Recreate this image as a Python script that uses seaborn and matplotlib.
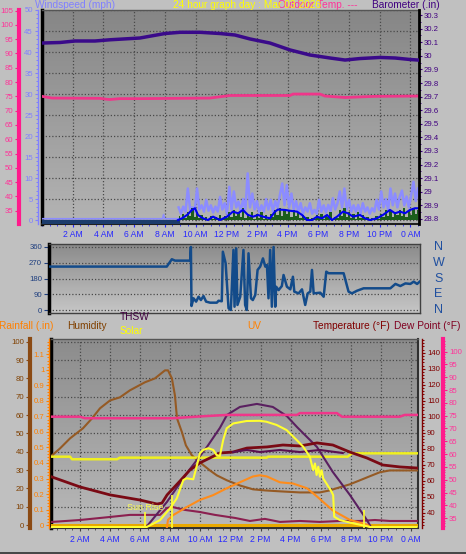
import numpy as np
import matplotlib
matplotlib.use("Agg")
import matplotlib.pyplot as plt
import seaborn as sns
from matplotlib.ticker import MultipleLocator, FuncFormatter
from matplotlib.colors import LinearSegmentedColormap
from matplotlib.lines import Line2D

plt.rcParams['font.family'] = ['Liberation Sans', 'DejaVu Sans']

# ---------------- data (hours since midnight) ----------------
tick_hours = [2, 4, 6, 8, 10, 12, 14, 16, 18, 20, 22, 24]
time_labels = ["2 AM", "4 AM", "6 AM", "8 AM", "10 AM", "12 PM", "2 PM", "4 PM",
               "6 PM", "8 PM", "10 PM", "0 AM"]

# top panel
baro_t = [0, 1.17, 2.15, 3.45, 4.43, 6.38, 8.01, 8.99, 10.29, 11.6, 12.57, 13.55, 14.85,
          16.16, 17.46, 18.76, 19.74, 20.72, 22.02, 23.0, 23.97, 24.5]
baro_v = [30.094, 30.098, 30.109, 30.109, 30.118, 30.131, 30.164, 30.173, 30.173, 30.164,
          30.153, 30.124, 30.094, 30.043, 30.006, 29.984, 29.969, 29.980, 29.988, 29.984,
          29.973, 29.969]
out_t = [0, 0.65, 3.78, 4.2, 4.43, 5.08, 6.38, 10.94, 12.25, 16.16, 16.35, 18.1, 18.44,
         19.74, 21.7, 24.5]
out_v = [75.0, 74.4, 74.3, 74.0, 73.9, 74.2, 74.2, 74.4, 75.3, 75.3, 75.8, 75.8, 75.1,
         74.6, 75.0, 75.1]
gust0_t = [0, 7.85, 7.92, 8.0, 8.86]
gust0_v = [0.3, 0.3, 1.3, 0.3, 0.3]
gust_start, gust_step = 8.9, 0.15
gust_v = [3.0, 1.5, 3.2, 2.0, 7.5, 2.5, 3.0, 2.0, 7.5, 2.5,
          3.5, 2.0, 4.8, 2.2, 3.5, 1.8, 3.2, 2.0, 5.5, 2.5,
          4.0, 1.5, 7.9, 2.5, 6.8, 3.0, 4.4, 2.0, 5.0, 2.5,
          11.1, 3.0, 6.3, 2.5, 4.5, 1.8, 3.5, 2.0, 5.0, 2.5,
          4.8, 2.0, 4.5, 3.0, 6.0, 8.7, 3.5, 8.3, 3.0, 6.3,
          2.5, 4.5, 2.0, 4.0, 1.5, 3.0, 2.0, 4.0, 1.5, 2.4,
          1.5, 4.8, 2.0, 3.5, 1.8, 3.6, 2.0, 5.2, 2.5, 4.0,
          6.8, 3.0, 7.5, 2.5, 4.8, 2.0, 3.5, 2.0, 3.6, 1.5,
          4.0, 2.0, 3.0, 1.5, 2.8, 2.0, 4.8, 2.5, 6.8, 3.0,
          5.0, 2.5, 7.5, 3.5, 6.3, 3.0, 5.5, 7.0, 3.5, 5.6,
          3.0, 6.0, 9.1, 4.5, 7.5]
ws_v = [1.0, 0.3, 1.5, 0.5, 2.0, 1.0, 2.8, 0.8, 2.0, 0.5,
        1.2, 0.3, 0.8, 0.2, 1.0, 0.3, 0.8, 0.5, 1.2, 0.3,
        1.0, 0.5, 1.8, 0.8, 2.5, 1.0, 2.0, 0.8, 2.8, 0.5,
        1.5, 0.8, 2.0, 0.3, 1.5, 0.5, 1.8, 0.3, 1.2, 0.2,
        1.5, 0.8, 2.5, 1.2, 2.8, 1.0, 2.5, 1.5, 2.2, 0.8,
        2.5, 1.0, 2.0, 0.5, 1.2, 0.2, 0.8, 0.2, 0.5, 0.3,
        1.2, 0.5, 1.5, 0.3, 1.2, 0.8, 2.0, 0.3, 0.8, 0.5,
        2.5, 1.0, 2.8, 0.8, 2.0, 0.5, 1.5, 0.3, 1.8, 0.5,
        1.2, 0.2, 0.8, 0.3, 0.5, 0.2, 1.0, 0.3, 1.5, 0.8,
        2.5, 1.0, 2.2, 0.8, 2.0, 1.2, 2.5, 1.0, 2.8, 0.8,
        2.5, 1.2, 2.8, 1.5, 2.5]
calm_t = [0, 8.86]
calm_v = [-0.4, -0.4]
avg_t = [8.86, 9.12, 9.45, 9.77, 9.97, 10.16, 10.49, 10.81, 11.14, 11.6, 12.05, 12.44, 12.77,
         13.09, 13.42, 13.75, 14.07, 14.4, 14.85, 15.18, 15.37, 15.83, 16.16, 16.61, 16.94,
         17.26, 17.59, 17.92, 18.24, 18.57, 18.89, 19.22, 19.61, 19.93, 20.26, 20.72, 21.04,
         21.37, 21.82, 22.21, 22.67, 23.0, 23.32, 23.65, 23.97, 24.3, 24.5]
avg_v = [0.0, 0.4, 1.2, 2.4, 2.8, 1.2, 0.4, 0.0, 0.8, 0.0, 0.8, 2.0, 1.6,
         2.4, 1.2, 0.8, 1.2, 0.8, 0.4, 2.0, 2.5, 2.4, 2.2, 2.0, 1.2,
         0.0, 0.0, 0.8, 0.4, 1.2, 0.0, 0.8, 2.0, 1.6, 0.8, 1.2, 0.4,
         0.0, 0.4, 1.2, 2.4, 1.6, 2.0, 1.6, 2.4, 2.8, 2.8]

# middle panel: wind direction (degrees)
wd_t = [0.52, 8.12, 8.45, 8.66, 9.64, 9.69, 9.73, 9.86, 10.03, 10.19,
        10.34, 10.51, 10.68, 10.94, 11.38, 11.49, 11.7, 11.77, 11.95, 12.14,
        12.29, 12.46, 12.53, 12.64, 12.72, 12.9, 13.11, 13.22, 13.33, 13.44,
        13.6, 13.72, 13.88, 14.03, 14.2, 14.38, 14.53, 14.64, 14.74, 14.85,
        14.96, 15.07, 15.18, 15.24, 15.4, 15.61, 15.72, 15.94, 16.16, 16.33,
        16.42, 16.7, 16.92, 17.13, 17.29, 17.46, 17.57, 17.68, 18.11, 18.33,
        18.5, 18.65, 19.63, 19.95, 20.17, 20.5, 20.93, 22.67, 23.0, 23.32,
        23.65, 23.97, 24.19, 24.41, 24.58]
wd_v = [248, 248, 290, 282, 282, 360, 23, 67, 48, 76,
        57, 80, 48, 42, 42, 53, 50, 333, 267, 10,
        0, 343, 19, 352, 29, 76, 343, 29, 0, 324,
        67, 57, 86, 229, 248, 295, 248, 257, 67, 343,
        19, 360, 19, 133, 114, 137, 200, 133, 118, 190,
        105, 95, 118, 29, 95, 105, 229, 95, 99, 76,
        219, 210, 210, 105, 95, 110, 124, 124, 149, 137,
        152, 149, 162, 149, 162]
wd_ticks = [0, 90, 180, 270, 360]
compass = ["N", "E", "S", "W", "N"]

# bottom panel
hum_t = [0.14, 0.67, 1.34, 2.2, 2.8, 3.33, 4.0, 4.66, 5.32, 6.32, 6.98, 7.65, 7.85, 8.11,
         8.31, 8.45, 8.78, 9.04, 9.44, 9.97, 10.64, 11.1, 11.77, 12.63, 13.5, 14.3, 15.29,
         16.62, 17.94, 18.6, 19.27, 19.93, 20.6, 21.26, 21.93, 22.59, 24.45]
hum_v = [38.0, 41.8, 47.3, 52.8, 58.2, 63.7, 68.0, 69.7, 73.5, 77.9, 80.0, 84.4, 84.4, 80.0,
         70.8, 58.2, 50.6, 43.5, 38.0, 34.2, 29.8, 27.1, 24.4, 21.6, 19.5, 18.9, 18.4,
         17.8, 17.8, 18.9, 20.6, 22.2, 24.4, 26.6, 28.8, 29.8, 29.8]
pinkb_t = [0.14, 2.0, 2.33, 8.18, 9.97, 11.77, 16.42, 16.62, 19.08, 19.41, 23.26, 23.59, 24.45]
pinkb_v = [74.6, 74.6, 74.0, 74.0, 74.7, 75.3, 75.3, 76.0, 76.0, 74.6, 74.6, 75.3, 75.3]
flat_t = [0.14, 1.34, 1.47, 4.46, 4.66, 14.42, 14.5, 19.8, 20.07, 24.45]
flat_v = [75.0, 75.0, 73.4, 73.4, 74.4, 74.4, 75.0, 75.0, 77.1, 77.1]
temp_t = [0.14, 2.0, 4.0, 5.99, 7.12, 7.45, 7.79, 8.65, 9.31, 9.97, 10.64, 11.3, 12.17, 13.1,
          14.43, 15.49, 16.62, 17.75, 18.81, 19.94, 21.07, 22.13, 23.26, 24.45]
temp_v = [62.3, 56.1, 51.1, 47.9, 45.4, 46.0, 51.1, 59.8, 66.7, 71.1, 74.2, 77.3, 77.9, 80.4,
          81.1, 82.3, 81.7, 83.6, 82.3, 77.9, 74.2, 69.8, 68.6, 67.9]
feels_t = [12.17, 13.1, 13.96, 15.29, 16.62, 17.94, 19.47]
feels_v = [77.9, 79.2, 77.9, 79.2, 77.9, 79.2, 77.3]
dew_t = [0.14, 2.0, 4.0, 5.32, 7.32, 7.78, 8.11, 8.98, 9.97, 10.97, 12.3, 13.3, 14.29, 15.29,
         16.62, 17.94, 19.27, 20.6, 21.6, 22.59, 24.45]
dew_v = [34.2, 35.4, 37.3, 38.6, 38.6, 42.9, 43.6, 41.7, 40.4, 38.6, 36.7, 34.8, 36.1, 34.2,
         34.8, 34.2, 34.8, 34.8, 35.4, 34.8, 34.8]
thsw_t = [6.32, 7.78, 9.11, 10.44, 11.3, 11.77, 12.63, 13.76, 14.82, 15.75, 16.42, 17.75,
          18.81, 19.94, 21.07, 21.4]
thsw_v = [30.0, 46.7, 64.8, 81.1, 93.0, 101.1, 106.1, 108.0, 106.1, 100.4, 93.6, 81.1,
          65.4, 51.1, 35.4, 30.0]
solar_t = [0.14, 6.43, 7.32, 7.98, 8.43, 8.87, 9.09, 9.53, 9.75, 9.97, 10.19, 10.53, 10.86,
           11.08, 11.3, 11.52, 11.75, 12.19, 13.08, 13.96, 14.4, 15.07, 15.73, 16.4, 16.84,
           17.28, 17.5, 17.62, 17.73, 17.84, 17.95, 18.06, 18.17, 18.39, 18.72, 18.83, 18.9,
           19.28, 20.16, 21.05, 21.27, 24.37]
solar_v = [0, 0, 37, 99, 152, 250, 259, 254, 321, 392, 410, 419, 410, 383, 378, 463, 525,
           551, 564, 565, 560, 543, 516, 463, 427, 374, 303, 338, 277, 321, 268, 303, 258,
           231, 188, 170, 55, 37, 20, 5, 0, 0]
sun_t = [6.32, 8.11, 20.87]
sun_h = [80, 170, 90]
uv_t = [7.78, 7.85, 8.18, 9.11, 9.97, 10.84, 11.77, 12.63, 13.5, 13.96, 14.42, 15.29, 16.15,
        17.08, 17.75, 18.81, 19.94, 21.07, 21.27]
uv_v = [0, 0.6, 1.0, 1.7, 2.3, 2.7, 3.3, 3.8, 4.3, 4.4, 4.3, 3.8, 3.7, 3.3, 2.6, 1.4, 0.6,
        0.2, 0]
rain_t = [0.14, 24.45]
rain_v = [0.0, 0.0]

gust_t = [gust_start + gust_step * i for i in range(len(gust_v))]
ws_t = [gust_start + gust_step * i for i in range(len(ws_v))]

# ---------------- layout helpers ----------------
W, H = 466, 554


def rect(l, t, r, b):
    return [l / W, 1 - b / H, (r - l) / W, (b - t) / H]


def pt(px):
    return px * 0.72


def ptext(x, y, s, color, size=7.3, ha='left', va='center', **kw):
    fig.text(x / W, 1 - y / H, s, color=color, fontsize=size, ha=ha, va=va, **kw)


def gradient(ax, c_top, c_bot):
    cm = LinearSegmentedColormap.from_list('g', [c_top, c_bot])
    ax.imshow(np.linspace(0, 1, 256).reshape(-1, 1), extent=[0, 1, 0, 1],
              transform=ax.transAxes, cmap=cm, aspect='auto', zorder=-10,
              interpolation='bilinear')


def line(ax, x, y, color, lw, z=3):
    sns.lineplot(x=x, y=y, ax=ax, color=color, linewidth=lw, estimator=None,
                 sort=False, legend=False, zorder=z)
    ax.set_xlabel('')
    ax.set_ylabel('')


fmt_g = FuncFormatter(lambda v, p: f"{round(v, 2):g}")
YFS = 5.6


def side_axis(ax, side, pos, ylim, major, minor, tcolor, lcolor, scolor, slw,
              fs=YFS, tlen=3, pad=2, fmt=None):
    t = ax.twinx()
    for s in t.spines.values():
        s.set_visible(False)
    sp = t.spines[side]
    sp.set_visible(True)
    sp.set_position(('axes', pos))
    sp.set_color(scolor)
    sp.set_linewidth(slw)
    t.yaxis.set_ticks_position(side)
    t.set_ylim(*ylim)
    t.yaxis.set_major_locator(MultipleLocator(major))
    t.yaxis.set_minor_locator(MultipleLocator(minor))
    if fmt is not None:
        t.yaxis.set_major_formatter(fmt)
    t.tick_params(axis='y', which='major', color=tcolor, labelcolor=lcolor,
                  labelsize=fs, length=pt(tlen), width=0.8, pad=pt(pad))
    t.tick_params(axis='y', which='minor', color=tcolor, length=pt(tlen * 0.55), width=0.7)
    return t


def hidden_axis(ax, ylim):
    t = ax.twinx()
    for s in t.spines.values():
        s.set_visible(False)
    t.set_ylim(*ylim)
    t.set_yticks([])
    return t


fig = plt.figure(figsize=(W / 100, H / 100), dpi=100)
fig.patch.set_facecolor('#c0c0c0')

GRID = dict(color='#4a4a4a', linestyle=(0, (1, 1.6)), linewidth=0.9)
XCOL = '#2828ff'
XFS = 6.2

# ---------------- top panel ----------------
WS_LIM = (-0.95, 50.0)
axT = fig.add_axes(rect(42, 10, 419, 224))
gradient(axT, '#868686', '#b4b4b4')
wsA = side_axis(axT, 'left', -4 / 377, WS_LIM, 5, 1, '#8080ff', '#8080ff', '#8080ff', 1.0,
                tlen=3, pad=2)
pkT = side_axis(axT, 'left', -23 / 377, (30.35, 105.2), 5, 1, '#ff1a8c', '#ff3399',
                '#ff1a8c', 3.0, tlen=4, pad=1.5)
brA = side_axis(axT, 'right', 1.0, (28.763, 30.337), 0.1, 0.05, '#400080', '#400080',
                '#000000', 2.0, tlen=3, pad=2, fmt=fmt_g)

line(axT, gust0_t, gust0_v, '#8c8cff', 1.2)
line(axT, gust_t, gust_v, '#8c8cff', 1.8)
axT.fill_between(ws_t, 0, ws_v, step='mid', color='#1b5e1b', lw=0, zorder=3)
line(axT, calm_t, calm_v, '#1c3c6c', 3, z=4)
line(axT, avg_t, avg_v, '#0000f0', 1.5, z=4)
line(pkT, out_t, out_v, '#f0368a', 2)
line(brA, baro_t, baro_v, '#3a0a8a', 2.5)

axT.set_xlim(0, 24.56)
axT.set_ylim(*WS_LIM)
axT.yaxis.set_major_locator(MultipleLocator(5))
axT.set_xticks(tick_hours)
axT.set_xticklabels(time_labels)
axT.xaxis.set_minor_locator(MultipleLocator(0.5))
axT.tick_params(axis='x', which='major', colors=XCOL, labelsize=XFS, length=pt(3), pad=pt(3))
axT.tick_params(axis='x', which='minor', colors=XCOL, length=pt(1.5))
axT.tick_params(axis='y', which='both', left=False, right=False, labelleft=False,
                labelright=False)
axT.grid(True, which='major', **GRID)
axT.spines['left'].set_color('black'); axT.spines['left'].set_linewidth(2.5)
axT.spines['right'].set_visible(False)
axT.spines['top'].set_color('#555555'); axT.spines['top'].set_linewidth(1)
axT.spines['bottom'].set_color('#202020'); axT.spines['bottom'].set_linewidth(1.5)

# ---------------- middle panel ----------------
axM = fig.add_axes(rect(49, 244, 420, 313))
gradient(axM, '#8a8a8a', '#c6c6c6')
line(axM, wd_t, wd_v, '#134b8a', 1.8)
axM.set_xlim(0.456, 24.6)
axM.set_ylim(-17, 377)
axM.set_yticks(wd_ticks)
axM.set_xticks([])
axM.tick_params(axis='y', colors='#1f3f7f', labelsize=YFS, length=pt(5), width=0.8, pad=pt(2))
axM.grid(True, axis='y', **GRID)
for k, s in axM.spines.items():
    s.set_color('#404040'); s.set_linewidth(1)
axM.spines['left'].set_color('black'); axM.spines['left'].set_linewidth(2.5)
for lab, deg in zip(compass, wd_ticks):
    axM.text(1.05, deg, lab, transform=axM.get_yaxis_transform(), color='#1f4f9f',
             fontsize=9, ha='center', va='center')

# ---------------- bottom panel ----------------
HUM_LIM = (-1.6, 101.5)
axB = fig.add_axes(rect(51, 339, 418, 528))
gradient(axB, '#8c8c8c', '#b9b9b9')
humA = side_axis(axB, 'left', -21 / 367, HUM_LIM, 10, 2, '#8b4a13', '#804000', '#8b4a13', 3,
                 tlen=4, pad=2)
rainA = side_axis(axB, 'left', -2 / 367, (-0.019, 1.199), 0.1, 0.02, '#ff8000', '#ff8000',
                  '#ff8000', 1, tlen=3, pad=1.5, fmt=fmt_g)
tempA = side_axis(axB, 'right', 371 / 367, (30.4, 148.6), 10, 2, '#800000', '#800000',
                  '#800000', 1, tlen=3, pad=2)
pkB = side_axis(axB, 'right', 392 / 367, (31.2, 104.9), 5, 1, '#ff1a8c', '#ff3399',
                '#ff1a8c', 3, tlen=4, pad=2)
uvA = hidden_axis(axB, (-0.09, 16))
solA = hidden_axis(axB, (-5, 1000))

line(axB, hum_t, hum_v, '#955a24', 1.5)
line(rainA, rain_t, rain_v, '#e8a800', 2.2)
line(tempA, flat_t, flat_v, '#f0f020', 1.8)
line(tempA, dew_t, dew_v, '#8b2050', 1.5)
line(tempA, thsw_t, thsw_v, '#5a2060', 1.5)
line(tempA, temp_t, temp_v, '#7a0a14', 2)
line(tempA, feels_t, feels_v, '#5a1050', 1.5)
line(pkB, pinkb_t, pinkb_v, '#f0368a', 1.8)
line(uvA, uv_t, uv_v, '#ff8c1a', 1.5)
line(solA, solar_t, solar_v, '#ffff30', 1.5)
solA.vlines(sun_t, -5, sun_h, color='#ffff30', lw=1.2, zorder=3)
solA.text(6.32, 106, 'Sun Rise', color='#ffff50', fontsize=6.4, ha='center', va='center')

axB.set_xlim(0.073, 24.47)
axB.set_ylim(*HUM_LIM)
axB.yaxis.set_major_locator(MultipleLocator(10))
axB.set_xticks(tick_hours)
axB.set_xticklabels(time_labels)
axB.xaxis.set_minor_locator(MultipleLocator(0.5))
axB.tick_params(axis='x', which='major', colors='#404040', labelcolor=XCOL, labelsize=XFS,
                length=pt(3), pad=pt(4))
axB.tick_params(axis='x', which='minor', colors='#404040', length=pt(1.5))
axB.tick_params(axis='y', which='both', left=False, right=False, labelleft=False,
                labelright=False)
axB.grid(True, which='major', **GRID)
axB.spines['left'].set_color('black'); axB.spines['left'].set_linewidth(2.5)
axB.spines['right'].set_color('#303030'); axB.spines['right'].set_linewidth(1.5)
axB.spines['top'].set_color('#555555'); axB.spines['top'].set_linewidth(1)
axB.spines['bottom'].set_color('#303030'); axB.spines['bottom'].set_linewidth(1.5)

# ---------------- header texts ----------------
ptext(35, 8.3, "Windspeed (mph)", '#8080ff', va='baseline')
ptext(278, 8.3, "Outdoor Temp. ---", '#ff3399', va='baseline')
ptext(173, 8.3, "24 hour graph day : Mar 03 2026", '#ffff00', va='baseline')
ptext(372, 8.3, "Barometer (.in)", '#400080', va='baseline')

ptext(-1, 326, "Rainfall (.in)", '#ff8000')
ptext(67, 326, "Humidity", '#804000')
ptext(120, 317, "THSW", '#400040')
ptext(120, 331, "Solar", '#ffff00')
ptext(247, 326, "UV", '#ff8000')
ptext(313, 326, "Temperature (\u00b0F)", '#800000')
ptext(394, 326, "Dew Point (\u00b0F)", '#800020')

fig.add_artist(Line2D([0, 1], [0.6 / H, 0.6 / H], color='#303030', lw=1.2,
                      transform=fig.transFigure))

fig.savefig('out.png', dpi=100, facecolor=fig.get_facecolor())
